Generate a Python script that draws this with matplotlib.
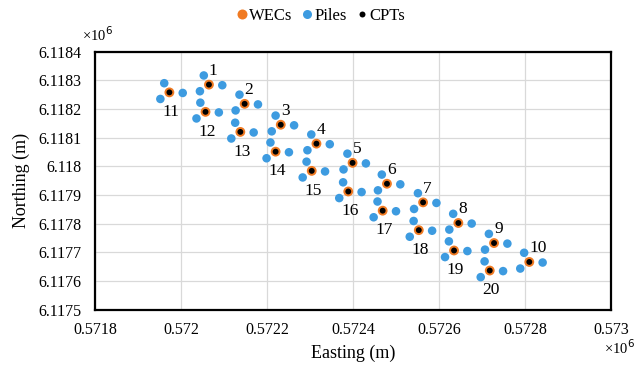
import matplotlib
matplotlib.use("Agg")
import matplotlib.pyplot as plt
from matplotlib.lines import Line2D
from matplotlib.ticker import MultipleLocator, FuncFormatter

plt.rcParams['font.family'] = ['Liberation Serif', 'DejaVu Serif']

# WEC centres (also CPT locations), easting / northing in metres
wec_ids = list(range(1, 21))
wec_e = [572065, 572148, 572232, 572315, 572399, 572479, 572563, 572645, 572728, 572810,
         571973, 572057, 572138, 572220, 572304, 572389, 572469, 572553, 572635, 572718]
wec_n = [6118285, 6118218, 6118145, 6118079, 6118012, 6117939, 6117874, 6117802, 6117732, 6117666,
         6118258, 6118190, 6118120, 6118051, 6117984, 6117912, 6117845, 6117777, 6117706, 6117636]

cpt_e = wec_e
cpt_n = wec_n

# Piles (three per WEC)
pile_e = [572053, 572136, 572220, 572303, 572387, 572467, 572551, 572633, 572716, 572798,
          571961, 572045, 572126, 572208, 572292, 572377, 572457, 572541, 572623, 572706,
          572044, 572127, 572211, 572294, 572378, 572458, 572542, 572624, 572707, 572789,
          571952, 572036, 572117, 572199, 572283, 572368, 572448, 572532, 572614, 572697,
          572096, 572179, 572263, 572346, 572430, 572510, 572594, 572676, 572759, 572841,
          572004, 572088, 572169, 572251, 572335, 572420, 572500, 572584, 572666, 572749]
pile_n = [6118317, 6118250, 6118177, 6118111, 6118044, 6117971, 6117906, 6117834, 6117764, 6117698,
          6118290, 6118222, 6118152, 6118083, 6118016, 6117944, 6117877, 6117809, 6117738, 6117668,
          6118262, 6118195, 6118122, 6118056, 6117989, 6117916, 6117851, 6117779, 6117709, 6117643,
          6118235, 6118167, 6118097, 6118028, 6117961, 6117889, 6117822, 6117754, 6117683, 6117613,
          6118283, 6118216, 6118143, 6118077, 6118010, 6117937, 6117872, 6117800, 6117730, 6117664,
          6118256, 6118188, 6118118, 6118049, 6117982, 6117910, 6117843, 6117775, 6117704, 6117634]

x_min, x_max = 571800, 573000
y_min, y_max = 6117500, 6118400

ORANGE = '#F07A22'
BLUE = '#3D9BE0'

W, H = 635, 365
L, R, T, B = 95, 611, 51.7, 309.5

fig = plt.figure(figsize=(6.35, 3.65), dpi=100)
ax = fig.add_axes([L/W, 1-B/H, (R-L)/W, (B-T)/H])

ax.scatter(pile_e, pile_n, s=38, color=BLUE, edgecolors='none', zorder=3)
ax.scatter(wec_e, wec_n, s=50, color=ORANGE, edgecolors='none', zorder=4)
ax.scatter(cpt_e, cpt_n, s=18, color='black', edgecolors='none', zorder=5)

for i, e, n in zip(wec_ids, wec_e, wec_n):
    if i <= 10:
        ax.annotate(str(i), (e, n), xytext=(0, 4), textcoords='offset points',
                    ha='left', va='bottom', fontsize=12.5, zorder=6)
    else:
        ax.annotate(str(i), (e, n), xytext=(1, -8.5), textcoords='offset points',
                    ha='center', va='top', fontsize=12.5, zorder=6)

ax.set_xlim(x_min, x_max)
ax.set_ylim(y_min, y_max)
ax.xaxis.set_major_locator(MultipleLocator(200))
ax.yaxis.set_major_locator(MultipleLocator(100))
fmt = FuncFormatter(lambda v, p: f"{v/1e6:.6g}")
ax.xaxis.set_major_formatter(fmt)
ax.yaxis.set_major_formatter(fmt)
ax.tick_params(axis='both', length=0, labelsize=11.5)
ax.tick_params(axis='y', pad=9.5)
ax.tick_params(axis='x', pad=9)
ax.grid(True, color='#D9D9D9', linewidth=0.9)
ax.set_axisbelow(True)
for sp in ax.spines.values():
    sp.set_linewidth(1.6)
    sp.set_color('black')

ax.set_xlabel('Easting (m)', fontsize=13)
ax.xaxis.label.set_va('center')
ax.xaxis.set_label_coords(0.5, (B-353)/(B-T))
ax.set_ylabel('Northing (m)', fontsize=13)
ax.yaxis.label.set_va('center')
ax.yaxis.set_label_coords((21-L)/(R-L), 0.5)

fig.text(82/W, 1-35/H, '×10$^6$', fontsize=10.5, ha='left', va='center')
fig.text(604/W, 1-348/H, '×10$^6$', fontsize=10.5, ha='left', va='center')

handles = [
    Line2D([], [], linestyle='none', marker='o', markersize=7.2, color=ORANGE, markeredgewidth=0),
    Line2D([], [], linestyle='none', marker='o', markersize=6.5, color=BLUE, markeredgewidth=0),
    Line2D([], [], linestyle='none', marker='o', markersize=4.3, color='black', markeredgewidth=0),
]
fig.legend(handles, ['WECs', 'Piles', 'CPTs'],
           loc='center', bbox_to_anchor=(321/W, 1-15.5/H), ncol=3, frameon=False,
           fontsize=12, handlelength=0.6, handletextpad=0.15, columnspacing=0.6,
           borderpad=0.2)

fig.savefig('out.png', dpi=100, facecolor='white')
